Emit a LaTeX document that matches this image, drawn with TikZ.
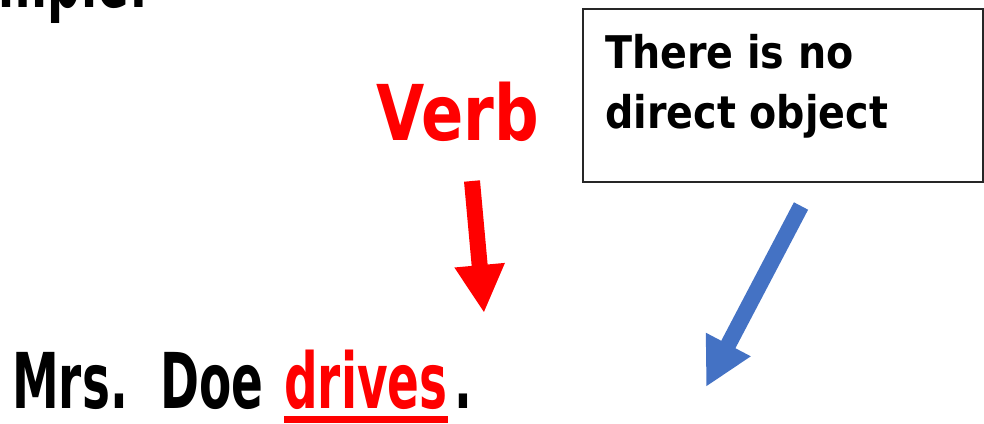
\documentclass[tikz,border=0pt]{standalone}
\usepackage{fontspec}
\newfontfamily\comicfont{DejaVu Sans}[FakeStretch=0.61]
\newfontfamily\headfont{DejaVu Sans}[FakeStretch=0.81]
\newfontfamily\notefont{DejaVu Sans}[FakeStretch=0.88]
\usetikzlibrary{arrows.meta}
\definecolor{arrowblue}{HTML}{4472C4}

\begin{document}
\begin{tikzpicture}[x=1pt, y=-1pt,
    word/.style={inner sep=0pt, font=\comicfont\bfseries\fontsize{77}{90}\selectfont},
    fatarrow/.style={line width=16pt, -{Triangle[width=47pt, length=48pt]}}]
    \useasboundingbox (0,0) rectangle (984,423);
    \clip (0,0) rectangle (984,423);

    \node[word, anchor=base east] (example) at (148,7) {Example:};

    \node[word, anchor=base, text=red, font=\headfont\bfseries\fontsize{77}{90}\selectfont] (verb) at (458,140) {Verb};
    \node[word, anchor=base west] (mrs) at (12,408) {Mrs.};
    \node[word, anchor=base west] (doe) at (160,408) {Doe};
    \node[word, anchor=base, text=red] (drives) at (366,408) {drives};
    \node[word, anchor=base west] (stop) at ([xshift=6pt]drives.base east) {.};
    \draw[red, line width=7pt] ([yshift=-11.5pt]drives.base west) -- ([yshift=-11.5pt]drives.base east);

    \node[draw=black!85, line width=1.2pt, minimum width=400pt, minimum height=173pt] (note) at (783,95.5) {};
    \node[anchor=base west, inner sep=0pt, align=left, font=\notefont\bfseries\fontsize{45}{60}\selectfont] (notetext) at (605,128) {There is no\\direct object};

    \coordinate (verbtail) at (472,181);
    \coordinate (verbtip) at (484,313);
    \draw[fatarrow, red] (verbtail) -- (verbtip);
    \coordinate (notetail) at (801,206);
    \coordinate (notetip) at (706,387);
    \draw[fatarrow, arrowblue] (notetail) -- (notetip);
\end{tikzpicture}
\end{document}
